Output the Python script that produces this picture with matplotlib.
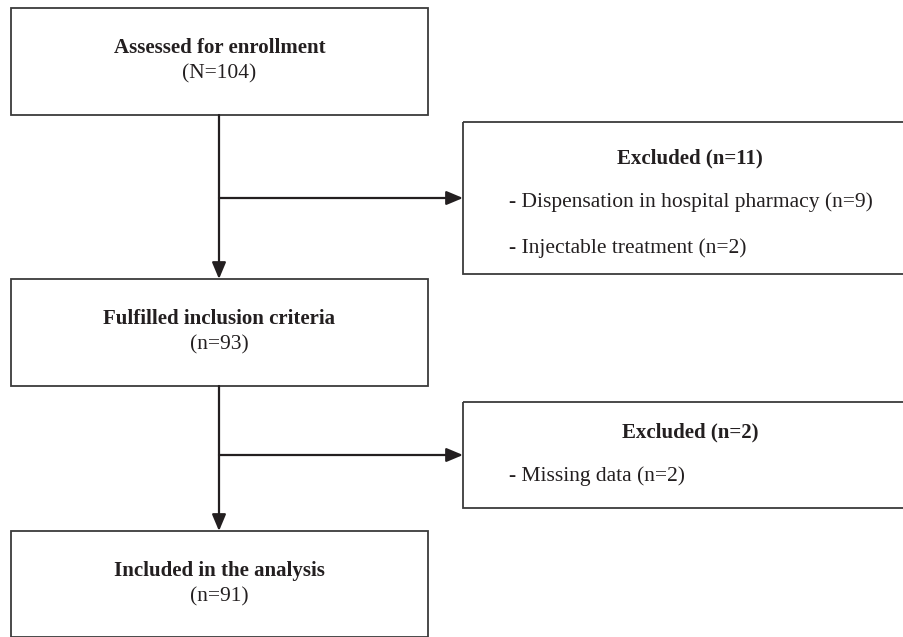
import matplotlib.pyplot as plt
from matplotlib.patches import Rectangle

# flow chart content
main_titles = ["Assessed for enrollment", "Fulfilled inclusion criteria", "Included in the analysis"]
main_counts = ["(N=104)", "(n=93)", "(n=91)"]
excl_titles = ["Excluded (n=11)", "Excluded (n=2)"]
excl_reasons = [["- Dispensation in hospital pharmacy (n=9)", "- Injectable treatment (n=2)"],
                ["- Missing data (n=2)"]]

# layout in pixels (top-left origin)
main_boxes = [(11, 8, 417, 107), (11, 279, 417, 107), (11, 531, 417, 106)]
excl_boxes = [(463, 122, 460, 152), (463, 402, 460, 106)]
excl_title_off = [36, 30]
spine_x = 219
line_col = "#231f20"
box_col = "#3a3a3a"

plt.rcParams['font.family'] = ['Liberation Serif', 'DejaVu Serif']

fig = plt.figure(figsize=(9.04, 6.37), dpi=100)
ax = fig.add_axes([0, 0, 1, 1])
ax.set_xlim(0, 904)
ax.set_ylim(637, 0)
ax.axis('off')

for (x, y, w, h), title, count in zip(main_boxes, main_titles, main_counts):
    ax.add_patch(Rectangle((x, y), w, h, fill=False, edgecolor=box_col, lw=1.3))
    cx = x + w / 2
    ax.text(cx, y + 40, title, ha='center', va='center', fontsize=15,
            fontweight='bold', color=line_col)
    ax.text(cx, y + 66, count, ha='center', va='center', fontsize=15.5, color=line_col)

for (x, y, w, h), off, title, reasons in zip(excl_boxes, excl_title_off, excl_titles, excl_reasons):
    ax.add_patch(Rectangle((x, y), w, h, fill=False, edgecolor=box_col, lw=1.3))
    ax.text(690, y + off, title, ha='center', va='center', fontsize=15,
            fontweight='bold', color=line_col)
    for i, r in enumerate(reasons):
        ax.text(509, y + off + 44 + 46 * i, r, ha='left', va='center', fontsize=15.5,
                color=line_col)

arrow_kw = dict(arrowstyle='-|>,head_length=1.0,head_width=0.42', color=line_col,
                lw=1.6, shrinkA=0, shrinkB=0)

# vertical arrows between main boxes, and side arrows to exclusion boxes
for i in range(len(main_boxes) - 1):
    x0, y0, w0, h0 = main_boxes[i]
    x1, y1, w1, h1 = main_boxes[i + 1]
    ax.annotate('', xy=(spine_x, y1), xytext=(spine_x, y0 + h0), arrowprops=arrow_kw)
    ex, ey, ew, eh = excl_boxes[i]
    ax.annotate('', xy=(ex, ey + eh / 2), xytext=(spine_x, ey + eh / 2), arrowprops=arrow_kw)

fig.savefig("out.png", dpi=100)
